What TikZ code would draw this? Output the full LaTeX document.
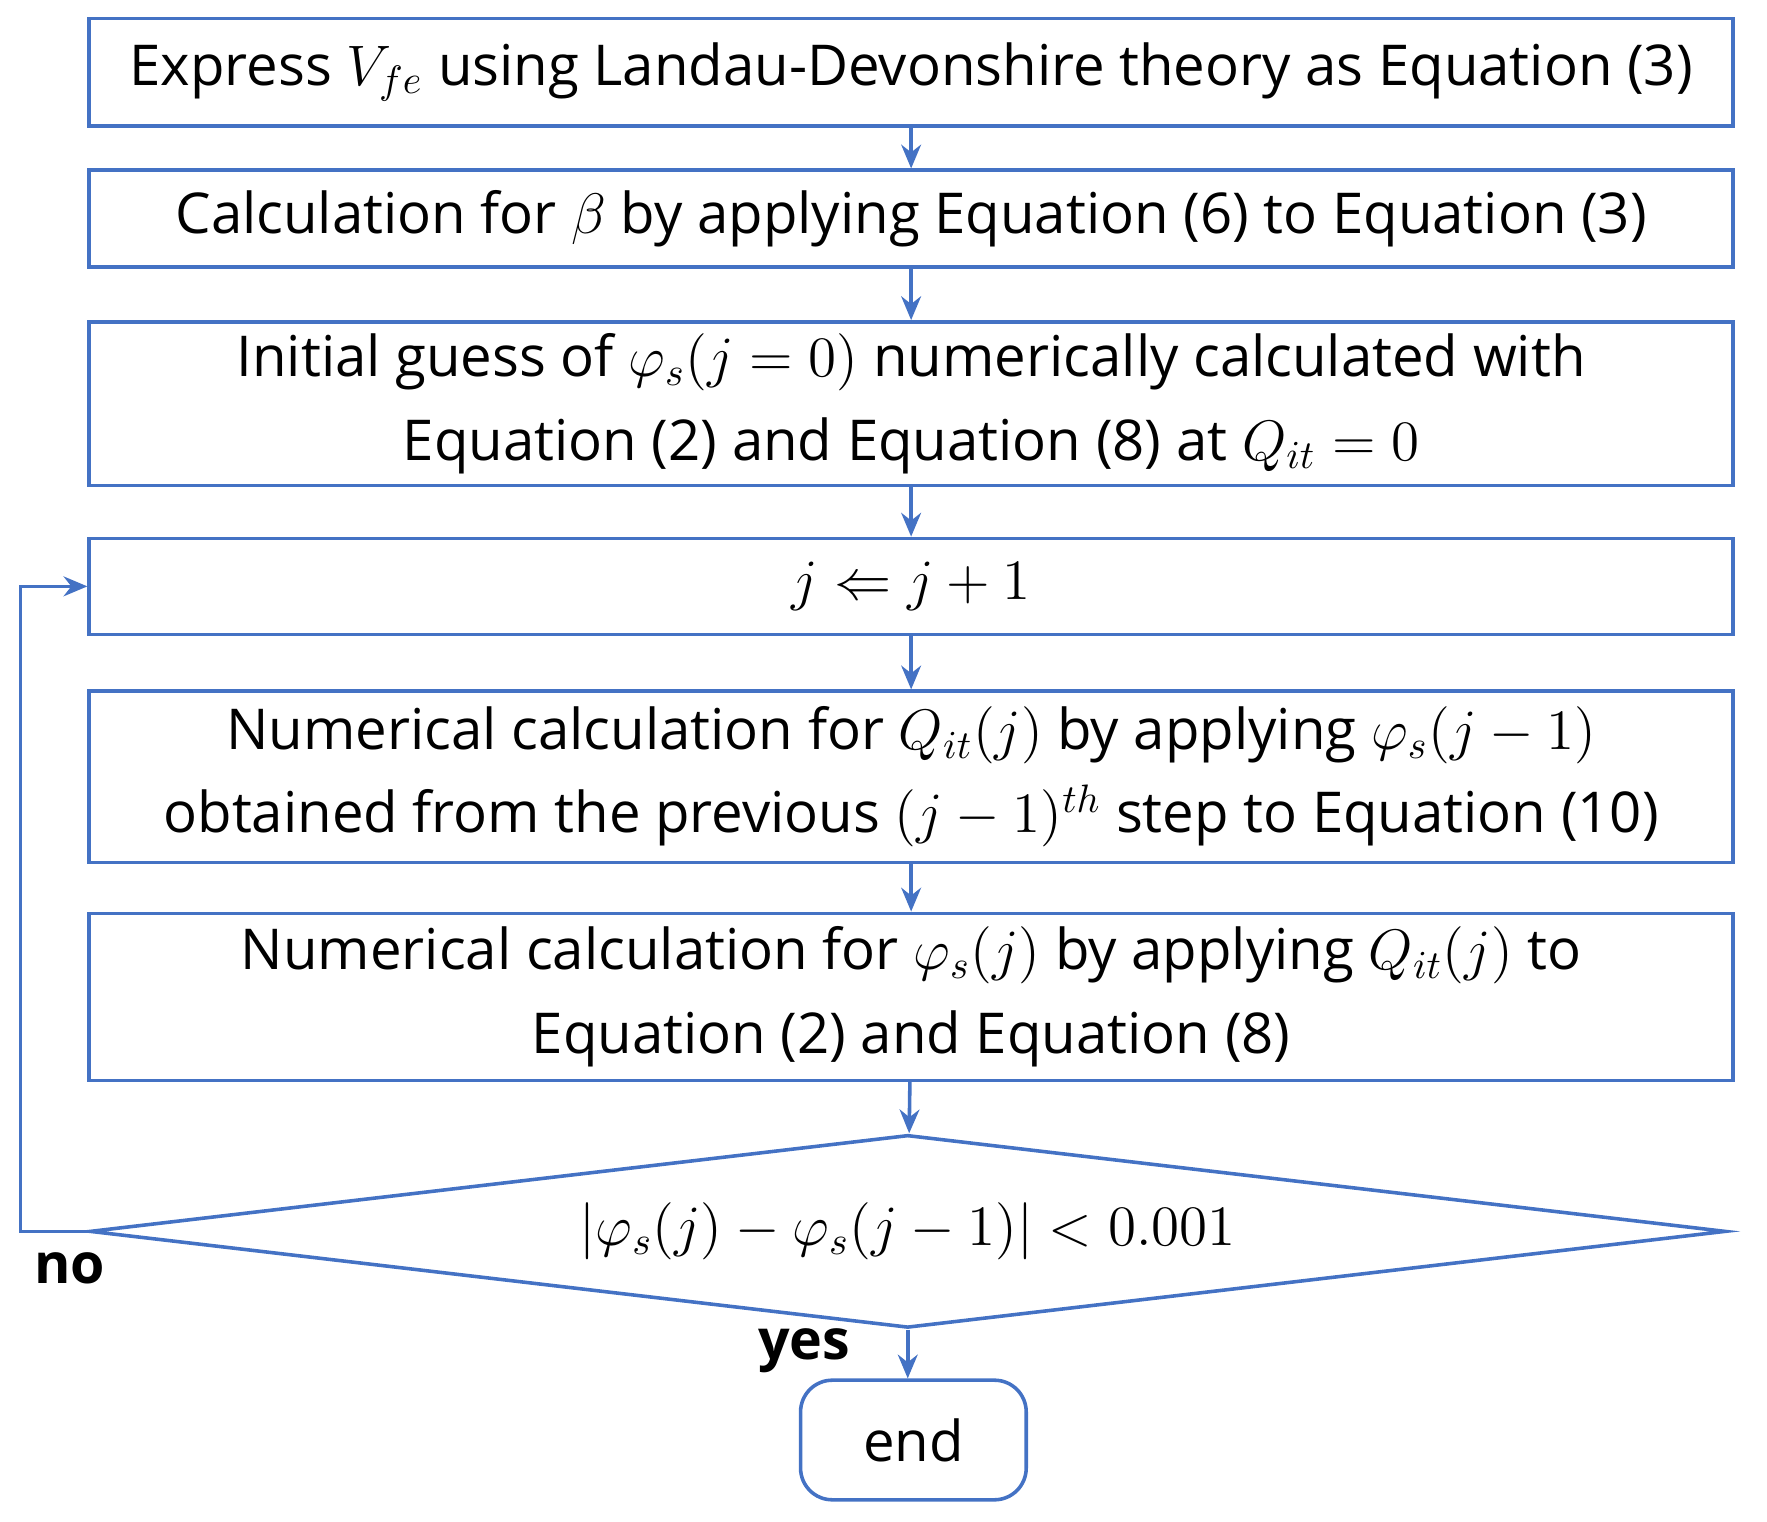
\documentclass[tikz,border=0pt]{standalone}
\usepackage{amsmath}
\usepackage{fontspec}
\setmainfont{Open Sans}
\usetikzlibrary{shapes.geometric,arrows.meta}
\definecolor{bl}{HTML}{4472C4}
\begin{document}
\begin{tikzpicture}[x=0.01cm,y=-0.01cm,
 box/.style={draw=bl,line width=0.9pt,minimum width=14.57cm,align=center,inner sep=0pt,font=\fontsize{14.2}{21}\selectfont},
 arr/.style={draw=bl,line width=0.9pt,-{Stealth[length=6pt,width=5pt]}},
 lab/.style={font=\fontsize{14}{18}\selectfont\bfseries}]
\useasboundingbox (0,0) rectangle (1567,1349);
\node[box,minimum height=0.95cm] (b1) at (808,64) {Express $V_{fe}$ using Landau-Devonshire theory as Equation (3)};
\node[box,minimum height=0.86cm] (b2) at (808,194) {Calculation for $\beta$ by applying Equation (6) to Equation (3)};
\node[box,minimum height=1.45cm] (b3) at (808,358) {Initial guess of $\varphi_s(j=0)$ numerically calculated with\\ Equation (2) and Equation (8) at $Q_{it}=0$};
\node[box,minimum height=0.85cm] (b4) at (808,520) {$j \Leftarrow j+1$};
\node[box,minimum height=1.52cm] (b5) at (808,689) {Numerical calculation for $Q_{it}(j)$ by applying $\varphi_s(j-1)$\\ obtained from the previous $(j-1)^{th}$ step to Equation (10)};
\node[box,minimum height=1.48cm] (b6) at (808,884) {Numerical calculation for $\varphi_s(j)$ by applying $Q_{it}(j)$ to\\ Equation (2) and Equation (8)};
\node[diamond,draw=bl,line width=0.9pt,minimum width=14.5cm,minimum height=1.71cm,inner sep=0pt,aspect=8.5,font=\fontsize{14.2}{18}\selectfont] (d) at (805,1092) {$|\varphi_s(j)-\varphi_s(j-1)|<0.001$};
\node[draw=bl,line width=0.9pt,rounded corners=8pt,minimum width=2.0cm,minimum height=1.06cm,font=\fontsize{14.2}{18}\selectfont] (e) at (810,1277) {end};
\draw[arr] (b1) -- (b2);
\draw[arr] (b2) -- (b3);
\draw[arr] (b3) -- (b4);
\draw[arr] (b4) -- (b5);
\draw[arr] (b5) -- (b6);
\draw[arr] (b6) -- (d);
\draw[arr] (d.south) -- (d.south |- e.north);
\coordinate (c1) at (18,1092);
\coordinate (c2) at (18,520);
\draw[arr] (d.west) -- (c1) -- (c2) -- (b4.west);
\node[lab] (no) at (62,1125) {no};
\node[lab] (yes) at (713,1198) {yes};
\end{tikzpicture}
\end{document}
